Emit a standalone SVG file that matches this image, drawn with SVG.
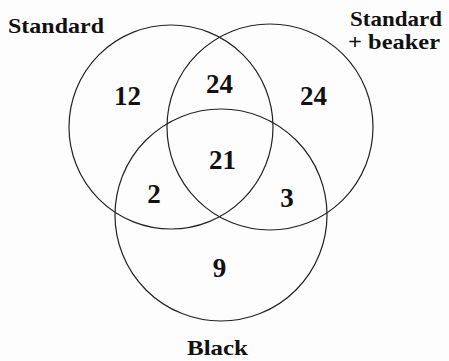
<svg xmlns="http://www.w3.org/2000/svg" width="449" height="361" viewBox="0 0 449 361">
<style>
.c{fill:none;stroke:#222;stroke-width:1.2}
.t{font-family:"Liberation Serif","Times New Roman",serif;font-weight:bold;fill:#111}
.lbl{font-size:22px}
.num{font-size:27px;text-anchor:middle}
</style>
<rect width="449" height="361" fill="#fdfdfd"/>
<g id="circles">
<circle id="standard" class="c" cx="171" cy="127" r="102"/>
<circle id="beaker" class="c" cx="270" cy="127" r="103"/>
<circle id="black" class="c" cx="221" cy="215" r="106"/>
</g>
<g id="labels">
<text class="t lbl" x="8" y="33" textLength="96" lengthAdjust="spacingAndGlyphs">Standard</text>
<text class="t lbl" x="350" y="26" textLength="92" lengthAdjust="spacingAndGlyphs">Standard</text>
<text class="t lbl" x="348" y="49" textLength="92" lengthAdjust="spacingAndGlyphs">+ beaker</text>
<text class="t lbl" x="187" y="355" textLength="61" lengthAdjust="spacingAndGlyphs">Black</text>
</g>
<g id="numbers">
<text class="t num" x="127.5" y="105">12</text>
<text class="t num" x="219.5" y="93">24</text>
<text class="t num" x="313.5" y="105">24</text>
<text class="t num" x="222.5" y="169">21</text>
<text class="t num" x="154" y="203">2</text>
<text class="t num" x="287" y="207">3</text>
<text class="t num" x="219.5" y="277">9</text>
</g>
</svg>
